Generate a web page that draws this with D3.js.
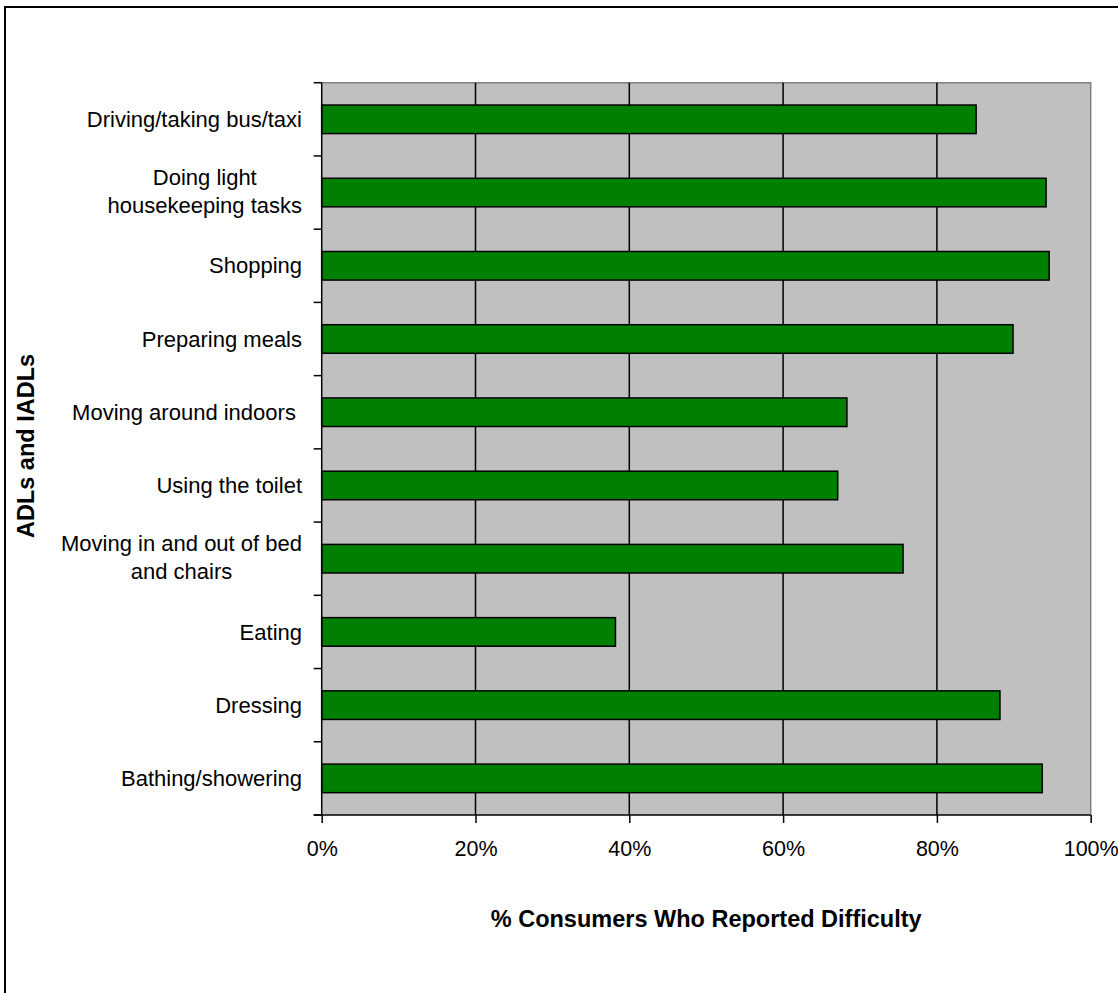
<!DOCTYPE html>
<html>
<head>
<meta charset="utf-8">
<script src="https://cdn.jsdelivr.net/npm/d3@7"></script>
<style>
html,body{margin:0;padding:0;background:#fff;}
svg{display:block;}
text{font-family:"Liberation Sans",Arial,sans-serif;fill:#000;}
</style>
</head>
<body>
<svg id="chart" width="1118" height="993"></svg>
<script>
const categories = [
  "Driving/taking bus/taxi",
  "Doing light|housekeeping tasks",
  "Shopping",
  "Preparing meals",
  "Moving around indoors ",
  "Using the toilet",
  "Moving in and out of bed|and chairs",
  "Eating",
  "Dressing",
  "Bathing/showering"
];
const values = [85.1, 94.2, 94.6, 89.9, 68.3, 67.1, 75.6, 38.2, 88.2, 93.7];
const xTicks = [0, 20, 40, 60, 80, 100];
const xTitle = "% Consumers Who Reported Difficulty";
const yTitle = "ADLs and IADLs";

(function () {
const svg = d3.select("#chart");
const pL = 321.7, pR = 1090.7, pT = 82.7, pB = 815;

// outer border (right/bottom off-canvas as in reference)
svg.append("rect").attr("x", 5).attr("y", 7).attr("width", 1130).attr("height", 1000)
  .attr("fill", "none").attr("stroke", "#000").attr("stroke-width", 2);

const x = d3.scaleLinear().domain([0, 100]).range([pL, pR]);
const y = d3.scaleBand().domain(categories).range([pT, pB])
  .paddingInner(0.61).paddingOuter(0.305);
const step = y.step();

// plot background
svg.append("rect").attr("x", pL).attr("y", pT).attr("width", pR - pL).attr("height", pB - pT)
  .attr("fill", "#c0c0c0");

// top / right border of plot
svg.append("path").attr("d", `M${pL},${pT}H${pR}V${pB}`)
  .attr("fill", "none").attr("stroke", "#808080").attr("stroke-width", 1.5);

// gridlines
svg.append("g").selectAll("line").data(xTicks.filter(d => d > 0 && d < 100)).join("line")
  .attr("x1", d => x(d)).attr("x2", d => x(d)).attr("y1", pT).attr("y2", pB)
  .attr("stroke", "#000").attr("stroke-width", 1.5);

// bars
svg.append("g").selectAll("rect").data(categories).join("rect")
  .attr("x", x(0))
  .attr("y", d => y(d))
  .attr("width", (d, i) => x(values[i]) - x(0))
  .attr("height", y.bandwidth())
  .attr("fill", "#008000")
  .attr("stroke", "#000").attr("stroke-width", 1.5);

// x axis
const xAxis = d3.axisBottom(x).tickValues(xTicks).tickFormat(d => d + "%").tickSize(8).tickPadding(17.7);
const gx = svg.append("g").attr("transform", `translate(0,${pB})`).call(xAxis);
gx.select(".domain").attr("stroke", "#000").attr("stroke-width", 1.5).attr("d", `M${pL - 8},0H${pR}`);
gx.selectAll(".tick line").attr("stroke", "#000").attr("stroke-width", 1.5);
gx.selectAll(".tick text").attr("font-size", 21.5).attr("font-family", "Liberation Sans, Arial, sans-serif").attr("dy", "0.71em");

// y axis line and ticks at band boundaries
svg.append("line").attr("x1", pL).attr("x2", pL).attr("y1", pT).attr("y2", pB)
  .attr("stroke", "#000").attr("stroke-width", 1.5);
const boundaries = categories.map(c => y(c) + y.bandwidth() / 2 - step / 2);
boundaries.push(pB);
svg.append("g").selectAll("line").data(boundaries).join("line")
  .attr("x1", pL - 8).attr("x2", pL).attr("y1", d => d).attr("y2", d => d)
  .attr("stroke", "#000").attr("stroke-width", 1.5);

// category labels
const fs = 22, lh = 28, labelRight = 302;
const lg = svg.append("g");
categories.forEach(c => {
  const lines = c.split("|");
  const cy = y(c) + y.bandwidth() / 2 - (lines.length > 1 ? 1 : 0);
  const t = lg.append("text").attr("font-size", fs).attr("text-anchor", "middle").style("white-space", "pre");
  lines.forEach((ln, i) => {
    t.append("tspan").text(ln)
      .attr("y", cy + (i - (lines.length - 1) / 2) * lh).attr("dy", "0.35em");
  });
  let w = 0;
  t.selectAll("tspan").each(function () { w = Math.max(w, this.getComputedTextLength()); });
  t.selectAll("tspan").attr("x", labelRight - w / 2);
});

// axis titles
svg.append("text").attr("x", (pL + pR) / 2).attr("y", 927)
  .attr("text-anchor", "middle").attr("font-size", 23.5).attr("font-weight", "bold").text(xTitle);
svg.append("text").attr("transform", `translate(34,446) rotate(-90)`)
  .attr("text-anchor", "middle").attr("font-size", 23.5).attr("font-weight", "bold").text(yTitle);
})();
</script>
</body>
</html>
